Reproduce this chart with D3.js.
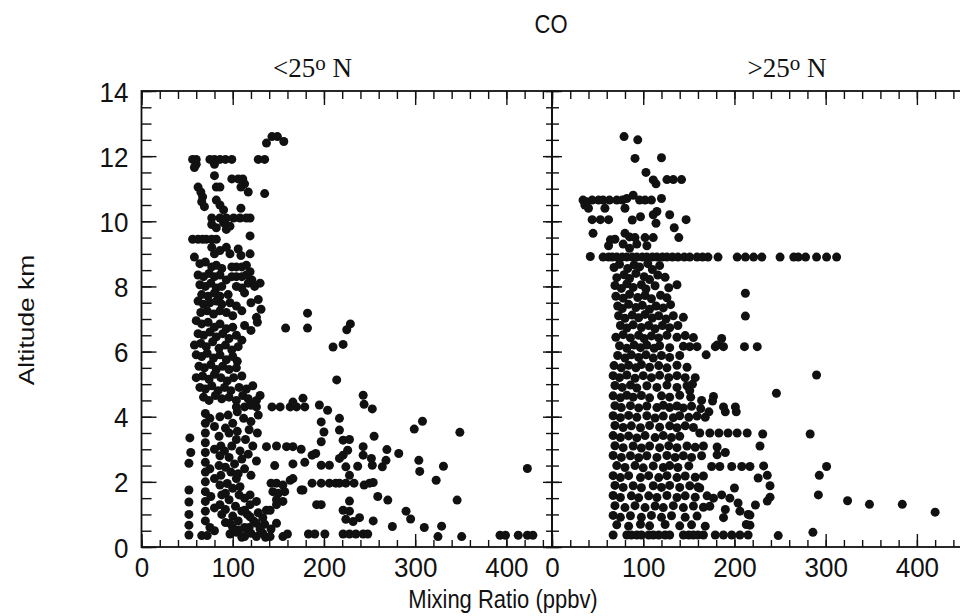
<!DOCTYPE html>
<html>
<head>
<meta charset="utf-8">
<script src="https://cdn.jsdelivr.net/npm/d3@7"></script>
<style>
  body { margin: 0; background: #fff; }
  svg text { font-family: "Liberation Sans", Arial, Helvetica, sans-serif; fill: #111; }
  svg text.serif { font-family: "Liberation Serif", "Times New Roman", serif; }
</style>
</head>
<body>
<div id="chart"></div>
<script>
// CO mixing ratio (ppbv) vs altitude (km), south of 25N
const lowLatPoints = [
  [137,12.4],[143,12.6],[149,12.6],[156,12.45],
  [56,11.9],[60,11.9],[60,11.75],[75,11.9],[80,11.9],[86,11.9],[92,11.9],[99,11.9],[80,11.75],[128,11.9],[135,11.9],
  [58,11.65],[80,11.4],[99,11.3],[106,11.3],[111,11.3],[113,11.15],[62,11.05],[82,11.05],[86,11.05],[109,11.05],[117,10.9],[135,10.85],
  [65,10.9],[67,10.75],[66,10.6],[69,10.45],[82,10.65],[86,10.5],[90,10.35],[109,10.4],
  [77,10.1],[86,10.1],[93,10.1],[101,10.1],[108,10.1],[115,10.1],[119,10.1],
  [77,9.9],[82,9.8],[90,9.95],[93,9.75],[97,9.85],[119,9.55],
  [56,9.45],[62,9.45],[67,9.45],[71,9.45],[77,9.45],[82,9.45],
  [77,9.2],[80,9.0],[86,9.1],[93,9.2],[97,9.0],[106,9.15],[109,8.95],[119,9.0],
  [58,8.9],[64,8.7],[70,8.75],[77,8.6],[82,8.65],[88,8.55],[99,8.6],[104,8.6],[110,8.6],[115,8.65],[119,8.45],
  [62,8.35],[68,8.3],[74,8.4],[80,8.3],[86,8.35],[93,8.2],[99,8.3],[104,8.3],[110,8.3],[115,8.35],[121,8.2],
  [64,8.05],[70,8.0],[76,8.1],[82,7.95],[88,8.0],[104,8.0],[110,7.95],[117,8.1],[124,8.0],[130,8.1],
  [66,7.75],[73,7.7],[80,7.8],[86,7.7],[95,7.75],[113,7.8],
  [62,7.55],[68,7.45],[75,7.5],[82,7.55],[88,7.45],[97,7.5],[104,7.4],[120,7.5],[128,7.6],
  [65,7.2],[72,7.25],[79,7.15],[86,7.25],[93,7.2],[100,7.1],[110,7.25],[126,7.05],[131,7.3],
  [60,6.95],[66,6.85],[73,6.9],[80,6.75],[86,6.85],[93,6.7],[100,6.75],[113,6.8],[120,6.65],[127,6.9],
  [62,6.55],[68,6.5],[75,6.6],[82,6.45],[89,6.55],[96,6.4],[104,6.5],[110,6.35],
  [58,6.2],[65,6.25],[71,6.15],[78,6.3],[85,6.1],[92,6.2],[99,6.05],[106,6.15],
  [158,6.72],[182,7.18],[182,6.72],[210,6.14],[221,6.22],[225,6.67],[229,6.85],[214,5.13],
  [60,5.9],[66,5.85],[72,5.95],[79,5.8],[86,5.9],[93,5.75],[100,5.85],[105,5.7],
  [63,5.55],[69,5.5],[76,5.6],[82,5.45],[89,5.55],[96,5.45],[104,5.5],
  [60,5.2],[67,5.25],[74,5.15],[80,5.3],[87,5.2],[94,5.1],[101,5.2],[110,5.25],
  [64,4.9],[70,4.85],[77,4.95],[84,4.8],[91,4.9],[98,4.8],[107,4.9],[115,4.85],[122,4.95],
  [68,4.6],[74,4.5],[81,4.65],[88,4.55],[96,4.6],[104,4.5],[111,4.65],[117,4.55],[126,4.5],[130,4.65],
  [104,4.3],[113,4.3],[120,4.35],[126,4.3],[143,4.3],[152,4.3],[163,4.3],[170,4.3],[179,4.3],[166,4.45],[177,4.57],[195,4.36],[204,4.2],
  [53,3.35],[54,2.9],[52,2.57],[52,1.75],[52,1.38],[52,1.0],[52,0.67],[52,0.37],
  [70,4.1],[70,3.8],[70,3.5],[70,3.2],[70,2.9],[70,2.6],[70,2.3],[70,2.0],[70,1.7],[70,1.4],[70,1.1],[70,0.8],[66,0.35],[72,0.35],
  [75,3.95],[75,2.4],[76,1.55],[75,0.6],
  [80,3.7],[80,3.0],[80,2.1],[80,1.2],[80,0.5],[92,3.65],[91,2.95],[92,2.45],[92,1.65],[92,1.15],
  [86,4.0],[85,3.4],[87,3.1],[86,2.8],[85,2.5],[87,2.2],[86,1.9],[88,1.6],[86,1.3],[88,1.0],[92,0.75],[97,0.4],
  [95,4.05],[100,3.8],[96,3.5],[104,3.3],[99,3.1],[108,2.95],[96,2.75],[102,2.55],[110,2.7],[98,2.3],[104,2.1],[94,1.95],
  [100,1.8],[107,1.6],[113,1.5],[96,1.45],[103,1.25],[110,1.1],[116,1.0],[100,0.95],[106,0.8],[113,0.6],[104,0.45],[110,0.3],
  [105,3.55],[106,2.25],[108,1.85],[100,0.6],[119,1.6],[123,0.8],[128,1.05],[135,0.7],[142,0.55],[136,0.3],[117,0.45],
  [105,4.15],[120,3.85],[127,3.5],[128,4.05],
  [112,3.95],[118,3.6],[114,3.3],[122,3.1],[117,2.85],[113,2.4],[120,2.2],[126,2.64],
  [113,1.13],[119,0.93],[126,0.73],[133,0.9],[141,1.13],[148,1.3],[148,0.73],[155,0.32],[113,0.32],[120,0.42],[126,0.32],
  [133,0.42],[141,0.32],[107,0.52],[97,0.73],[118,0.6],[130,0.55],[137,1.13],[126,1.4],[119,1.3],[160,0.4],
  [137,3.08],[148,3.1],[159,3.08],[166,3.08],[175,3.0],[146,2.5],[166,2.55],
  [142,1.96],[148,1.96],[155,1.9],[144,1.7],[150,1.65],[157,1.7],[148,1.45],[155,1.4],[163,2.05],[175,1.75],
  [197,3.84],[200,3.53],[197,3.23],[191,2.87],[187,2.82],[197,2.51],[206,2.51],[179,2.6],
  [187,1.96],[197,1.96],[206,1.96],[213,1.96],[192,1.3],[197,1.3],[183,0.4],[190,0.4],[201,0.4],[166,2.1],[177,1.75],
  [243,4.66],[244,4.38],[253,4.24],[217,3.95],[217,3.59],[299,3.62],[308,3.86],[349,3.52],[423,2.41],[255,3.4],
  [221,3.28],[228,3.3],[226,2.97],[221,2.82],[243,3.08],[243,2.82],[252,2.72],[253,2.51],[264,2.46],[268,2.66],[269,2.99],[282,2.87],
  [304,2.66],[305,2.32],[331,2.48],[323,2.05],[217,2.72],[224,2.46],[228,2.2],[237,2.48],
  [217,1.96],[224,1.96],[233,1.96],[244,1.9],[250,1.96],[254,1.98],
  [259,1.55],[270,1.44],[346,1.44],[228,1.41],[221,1.13],[228,1.1],[290,1.1],[295,0.86],
  [224,0.85],[232,0.78],[239,0.9],[254,0.8],
  [221,0.4],[228,0.4],[235,0.4],[243,0.4],[248,0.4],[275,0.63],[310,0.6],[329,0.64],[325,0.32],[351,0.32],
  [393,0.36],[399,0.36],[413,0.36],[423,0.36],[429,0.36]
];

// CO mixing ratio (ppbv) vs altitude (km), north of 25N
const highLatPoints = [
  [79,12.6],[94,12.5],[91,11.93],[120,11.95],
  [103,11.5],[111,11.27],[114,11.15],[126,11.28],[133,11.28],[142,11.28],
  [34,10.65],[38,10.6],[44,10.65],[51,10.65],[56,10.65],[63,10.65],[71,10.65],[77,10.65],[82,10.7],[89,10.8],[96,10.65],[102,10.65],[109,10.65],[120,10.7],
  [36,10.5],[40,10.4],[58,10.4],[80,10.4],[115,10.3],[129,10.2],
  [44,10.05],[53,10.05],[62,10.05],[88,10.04],[97,10.14],[111,10.2],[114,9.94],[147,10.05],[134,9.8],[139,9.5],
  [45,9.63],[64,9.43],[69,9.45],[62,9.25],[80,9.63],[85,9.52],[91,9.5],[102,9.5],[111,9.5],[78,9.3],[93,9.3],[104,9.25],[85,9.17],
  [42,8.92],[56,8.9],[62,8.9],[66,8.9],[71,8.9],[77,8.9],[82,8.9],[88,8.9],[93,8.9],[99,8.9],[104,8.9],[110,8.9],[115,8.9],
  [121,8.9],[126,8.9],[132,8.9],[138,8.9],[145,8.9],[151,8.9],[159,8.9],[165,8.9],[171,8.9],[182,8.9],[203,8.9],[212,8.9],
  [221,8.9],[230,8.9],[250,8.9],[265,8.9],[270,8.9],[278,8.9],[290,8.9],[301,8.9],[312,8.9],
  [68,8.58],[74,8.68],[83,8.55],[90,8.66],[96,8.6],[105,8.7],[110,8.52],[118,8.64],
  [71,8.27],[79,8.36],[85,8.24],[92,8.4],[101,8.3],[107,8.21],[116,8.35],[124,8.28],
  [69,8.03],[76,7.94],[82,8.08],[89,7.97],[98,8.05],[103,7.92],[113,8.02],[128,7.96],[137,8.05],
  [70,7.7],[78,7.64],[85,7.76],[94,7.66],[102,7.72],[109,7.62],[119,7.73],[126,7.65],
  [72,7.4],[77,7.32],[84,7.45],[92,7.35],[99,7.42],[107,7.3],[114,7.4],[122,7.34],[130,7.44],
  [73,7.1],[80,7.02],[88,7.12],[95,7.04],[102,7.14],[110,7.03],[117,7.1],[125,7.0],[133,7.1],[144,7.05],
  [75,6.8],[82,6.72],[89,6.82],[98,6.74],[106,6.8],[113,6.7],[121,6.8],[129,6.73],[138,6.8],
  [70,6.44],[78,6.52],[86,6.42],[95,6.5],[101,6.4],[109,6.48],[117,6.42],[126,6.5],[137,6.44],[146,6.49],[155,6.43],
  [74,6.18],[82,6.1],[90,6.2],[97,6.12],[104,6.2],[112,6.1],[118,6.18],[129,6.12],[144,6.16],
  [72,5.88],[80,5.8],[87,5.9],[95,5.82],[103,5.9],[111,5.8],[120,5.88],[129,5.82],[140,5.88],
  [68,5.57],[76,5.5],[84,5.58],[92,5.5],[98,5.6],[107,5.52],[117,5.57],[126,5.5],[137,5.58],[148,5.52],
  [67,5.26],[74,5.2],[82,5.28],[91,5.18],[100,5.26],[109,5.2],[118,5.27],[128,5.2],[137,5.26],[146,5.2],
  [69,4.96],[77,4.9],[86,4.97],[93,4.88],[104,4.95],[115,4.9],[126,4.97],[137,4.9],[148,4.95],
  [67,4.64],[75,4.58],[82,4.66],[89,4.6],[98,4.65],[107,4.58],[120,4.64],[129,4.6],[140,4.66],[152,4.6],
  [69,4.34],[76,4.28],[86,4.34],[95,4.27],[104,4.33],[115,4.28],[122,4.35],[129,4.28],[137,4.33],[144,4.27],[153,4.32],
  [67,4.03],[75,3.97],[84,4.04],[93,3.98],[104,4.03],[113,3.96],[122,4.02],[133,3.97],[140,4.03],[150,3.98],[159,4.02],[168,3.98],
  [69,3.73],[78,3.67],[87,3.72],[97,3.66],[107,3.73],[118,3.68],[129,3.72],[137,3.66],[146,3.72],[155,3.67],
  [67,3.42],[75,3.36],[84,3.41],[93,3.35],[102,3.42],[113,3.36],[122,3.42],[131,3.36],[140,3.4],
  [69,3.11],[78,3.05],[89,3.1],[98,3.04],[107,3.1],[118,3.05],[128,3.11],[137,3.05],[148,3.1],[157,3.06],[166,3.1],
  [67,2.81],[76,2.75],[86,2.8],[95,2.74],[104,2.8],[115,2.75],[126,2.81],[135,2.75],[144,2.8],[153,2.75],[164,2.8],
  [71,2.5],[80,2.44],[91,2.5],[100,2.43],[111,2.49],[122,2.44],[129,2.5],[138,2.44],[150,2.49],
  [67,2.19],[75,2.13],[84,2.19],[97,2.13],[106,2.19],[117,2.13],[126,2.19],[137,2.13],[146,2.18],[157,2.14],[166,2.18],
  [69,1.89],[78,1.83],[89,1.88],[98,1.82],[111,1.88],[120,1.83],[129,1.89],[140,1.83],[151,1.88],[160,1.84],
  [67,1.58],[75,1.52],[87,1.57],[95,1.51],[106,1.57],[115,1.52],[126,1.58],[137,1.52],[146,1.57],[157,1.53],[170,1.57],
  [69,1.27],[80,1.21],[91,1.27],[102,1.21],[113,1.26],[122,1.21],[133,1.27],[144,1.21],[155,1.26],[166,1.22],
  [67,0.97],[75,0.91],[86,0.96],[98,0.91],[109,0.97],[120,0.91],[131,0.96],[146,0.91],[159,0.95],
  [71,0.68],[84,0.64],[97,0.7],[107,0.65],[124,0.69],[140,0.65],[153,0.68],
  [67,0.37],[82,0.37],[87,0.37],[93,0.37],[98,0.37],[106,0.37],[111,0.37],[117,0.37],[124,0.37],[129,0.37],
  [144,0.37],[150,0.37],[155,0.37],[160,0.37],[166,0.37],
  [212,7.79],[212,7.09],[159,6.15],[151,6.15],[181,6.2],[186,6.4],[179,6.15],[188,6.15],[211,6.15],[225,6.15],[169,5.9],
  [290,5.28],[246,4.72],[157,5.2],[154,5.0],[151,4.8],[176,4.48],[164,4.5],[177,4.62],[163,4.25],[172,4.15],[190,4.15],
  [202,4.15],[188,4.3],[201,4.3],
  [162,3.5],[173,3.5],[183,3.5],[193,3.5],[203,3.5],[214,3.5],[231,3.47],[283,3.47],
  [228,3.1],[181,3.07],[190,2.9],[181,2.83],
  [175,2.47],[184,2.47],[197,2.47],[208,2.47],[217,2.47],[232,2.49],[301,2.47],
  [293,2.2],[292,1.6],[226,2.12],[236,2.2],[239,1.88],[239,1.53],[236,1.41],[223,1.29],
  [162,1.81],[177,1.5],[186,1.6],[195,1.5],[200,1.81],[204,1.35],[190,1.15],[188,0.9],[206,1.1],[215,1.0],[213,0.69],
  [173,1.25],[168,0.64],
  [179,0.37],[188,0.37],[197,0.37],[206,0.37],[215,0.37],[248,0.35],[286,0.45],
  [324,1.42],[348,1.31],[384,1.31],[420,1.07],[217,0.98],[217,0.67]
];

const panelTitles = ["<25", ">25"];
const xMajorTicks = [0, 100, 200, 300, 400];
const xMinorTicks = [0, 20, 40, 60, 80, 100, 120, 140, 160, 180, 200, 220, 240, 260, 280, 300, 320, 340, 360, 380, 400, 420, 440];
const yMajorTicks = [0, 2, 4, 6, 8, 10, 12, 14];
const yMinorTicks = [0, 0.5, 1, 1.5, 2, 2.5, 3, 3.5, 4, 4.5, 5, 5.5, 6, 6.5, 7, 7.5, 8, 8.5, 9, 9.5, 10, 10.5, 11, 11.5, 12, 12.5, 13, 13.5, 14];

const chartW = 960, chartH = 616;
const plotTop = 91, plotBottom = 547, plotLeft = 141.5, panelW = 410.5;
const stretch = 1.2;     // titles in the scan are taller than they are wide
const tickStretch = 1.08;

const svg = d3.select("#chart").append("svg")
    .attr("width", chartW)
    .attr("height", chartH);

const yScale = d3.scaleLinear().domain([0, 14]).range([plotBottom, plotTop]);

const panels = [
    { title: panelTitles[0], points: lowLatPoints },
    { title: panelTitles[1], points: highLatPoints }
];

const noDomain = s => s.select(".domain").remove();

panels.forEach((p, i) => {
    const x0 = plotLeft + i * panelW;
    const xScale = d3.scaleLinear().domain([0, 450]).range([x0, x0 + panelW]);
    const g = svg.append("g");

    // dots
    g.selectAll("circle")
        .data(p.points)
        .join("circle")
        .attr("cx", d => xScale(d[0]))
        .attr("cy", d => yScale(d[1]))
        .attr("r", 4.5)
        .attr("fill", "#111");

    // frame
    g.append("rect")
        .attr("x", x0).attr("y", plotTop)
        .attr("width", panelW).attr("height", plotBottom - plotTop)
        .attr("fill", "none").attr("stroke", "#111").attr("stroke-width", 1.8);

    // bottom ticks (inward)
    g.append("g").attr("transform", `translate(0,${plotBottom})`)
        .call(d3.axisBottom(xScale).tickValues(xMinorTicks).tickSizeInner(-7).tickSizeOuter(0).tickFormat(""))
        .call(noDomain);
    const bx = g.append("g").attr("transform", `translate(0,${plotBottom})`)
        .call(d3.axisBottom(xScale).tickValues(xMajorTicks).tickSizeInner(-13).tickSizeOuter(0).tickFormat(d3.format("d")))
        .call(noDomain);
    bx.selectAll("text")
        .attr("y", 0).attr("dy", null)
        .attr("font-size", 26)
        .attr("transform", `translate(0,30) scale(1,${tickStretch})`);

    // top ticks (inward)
    g.append("g").attr("transform", `translate(0,${plotTop})`)
        .call(d3.axisTop(xScale).tickValues(xMinorTicks).tickSizeInner(-8).tickSizeOuter(0).tickFormat(""))
        .call(noDomain);
    g.append("g").attr("transform", `translate(0,${plotTop})`)
        .call(d3.axisTop(xScale).tickValues(xMajorTicks).tickSizeInner(-14).tickSizeOuter(0).tickFormat(""))
        .call(noDomain);

    // left side ticks (pointing right)
    const inner = i === 0 ? [10, 15] : [7, 10];
    g.append("g").attr("transform", `translate(${x0},0)`)
        .call(d3.axisLeft(yScale).tickValues(yMinorTicks).tickSizeInner(-inner[0]).tickSizeOuter(0).tickFormat(""))
        .call(noDomain);
    const ly = g.append("g").attr("transform", `translate(${x0},0)`)
        .call(d3.axisLeft(yScale).tickValues(yMajorTicks).tickSizeInner(-inner[1]).tickSizeOuter(0)
            .tickFormat(i === 0 ? d3.format("d") : ""))
        .call(noDomain);
    ly.selectAll("text")
        .attr("x", 0).attr("dy", null)
        .attr("font-size", 26)
        .attr("text-anchor", "end")
        .attr("transform", `translate(-13,10) scale(1,${tickStretch})`);

    // right side ticks of the left panel (pointing left)
    if (i === 0) {
        g.append("g").attr("transform", `translate(${x0 + panelW},0)`)
            .call(d3.axisRight(yScale).tickValues(yMinorTicks).tickSizeInner(-6).tickSizeOuter(0).tickFormat(""))
            .call(noDomain);
        g.append("g").attr("transform", `translate(${x0 + panelW},0)`)
            .call(d3.axisRight(yScale).tickValues(yMajorTicks).tickSizeInner(-9).tickSizeOuter(0).tickFormat(""))
            .call(noDomain);
    }

    g.selectAll(".tick line").attr("stroke", "#111").attr("stroke-width", 1.4);

    // panel title: "<25o N"
    const t = svg.append("text")
        .attr("class", "serif")
        .attr("x", x0 + (i === 0 ? 171 : 235))
        .attr("y", 77)
        .attr("text-anchor", "middle")
        .attr("font-size", 27);
    t.append("tspan").text(p.title);
    t.append("tspan").attr("dy", -7).attr("font-size", 21).text("o");
    t.append("tspan").attr("dy", 7).text(" N");
});

// titles
svg.append("text")
    .attr("text-anchor", "middle")
    .attr("font-size", 22)
    .attr("transform", `translate(551,33) scale(1,${stretch})`)
    .text("CO");

svg.append("text")
    .attr("text-anchor", "middle")
    .attr("font-size", 22)
    .attr("transform", `translate(503,608) scale(1,${stretch})`)
    .text("Mixing Ratio (ppbv)");

svg.append("text")
    .attr("text-anchor", "middle")
    .attr("font-size", 22)
    .attr("transform", `translate(34,320) rotate(-90) scale(${stretch},1)`)
    .text("Altitude km");
</script>
</body>
</html>
